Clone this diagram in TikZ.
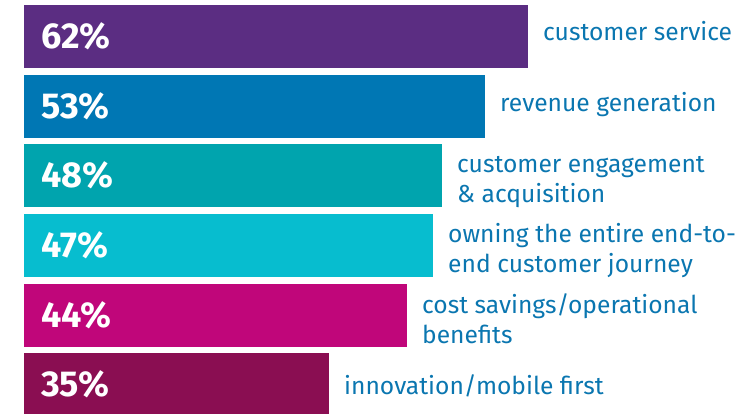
\documentclass[tikz,border=0pt]{standalone}
\usepackage{fontspec}
\setmainfont{Fira Sans}
\usepackage{xcolor}
\usetikzlibrary{positioning}
\definecolor{cServ}{HTML}{5B2D82}
\definecolor{cRev}{HTML}{0077B4}
\definecolor{cEng}{HTML}{00A4AE}
\definecolor{cOwn}{HTML}{07BDCF}
\definecolor{cCost}{HTML}{C0067A}
\definecolor{cInno}{HTML}{8A0E52}
\definecolor{txt}{HTML}{0A76B0}

\begin{document}
\begin{tikzpicture}[x=1pt,y=-1pt,
  bar/.style={anchor=north west,minimum height=63pt,inner sep=0pt,outer sep=0pt},
  pct/.style={text=white,font=\fontsize{36}{40}\selectfont\bfseries,inner sep=0pt},
  lbl/.style={text=txt,font=\fontsize{24.6}{30}\selectfont,align=left,inner sep=0pt}]
	\useasboundingbox (0,0) rectangle (755,414);

	% The bars
	\node [bar,fill=cServ,minimum width=504pt] at (24,5) (bServ) {};
	\node [bar,fill=cRev,minimum width=461pt] at (24,75) (bRev) {};
	\node [bar,fill=cEng,minimum width=418pt] at (24,144) (bEng) {};
	\node [bar,fill=cOwn,minimum width=409pt] at (24,214) (bOwn) {};
	\node [bar,fill=cCost,minimum width=383pt] at (24,284) (bCost) {};
	\node [bar,fill=cInno,minimum width=305pt] at (24,353) (bInno) {};

	% Percentages
	\node [pct,right=17pt of bServ.west] (pServ) {62\%};
	\node [pct,right=17pt of bRev.west] (pRev) {53\%};
	\node [pct,right=17pt of bEng.west] (pEng) {48\%};
	\node [pct,right=17pt of bOwn.west] (pOwn) {47\%};
	\node [pct,right=17pt of bCost.west] (pCost) {44\%};
	\node [pct,right=17pt of bInno.west] (pInno) {35\%};

	% Labels
	\node [lbl,right=15pt of bServ.east,yshift=5pt] (lServ) {customer service};
	\node [lbl,right=15pt of bRev.east,yshift=2pt] (lRev) {revenue generation};
	\node [lbl,right=15pt of bEng.east,yshift=-6.5pt] (lEng) {customer engagement\\\& acquisition};
	\node [lbl,right=15pt of bOwn.east,yshift=-5.5pt] (lOwn) {owning the entire end-to-\\end customer journey};
	\node [lbl,right=15pt of bCost.east,yshift=-3pt] (lCost) {cost savings/operational\\benefits};
	\node [lbl,right=15pt of bInno.east,yshift=-1pt] (lInno) {innovation/mobile first};

\end{tikzpicture}
\end{document}
